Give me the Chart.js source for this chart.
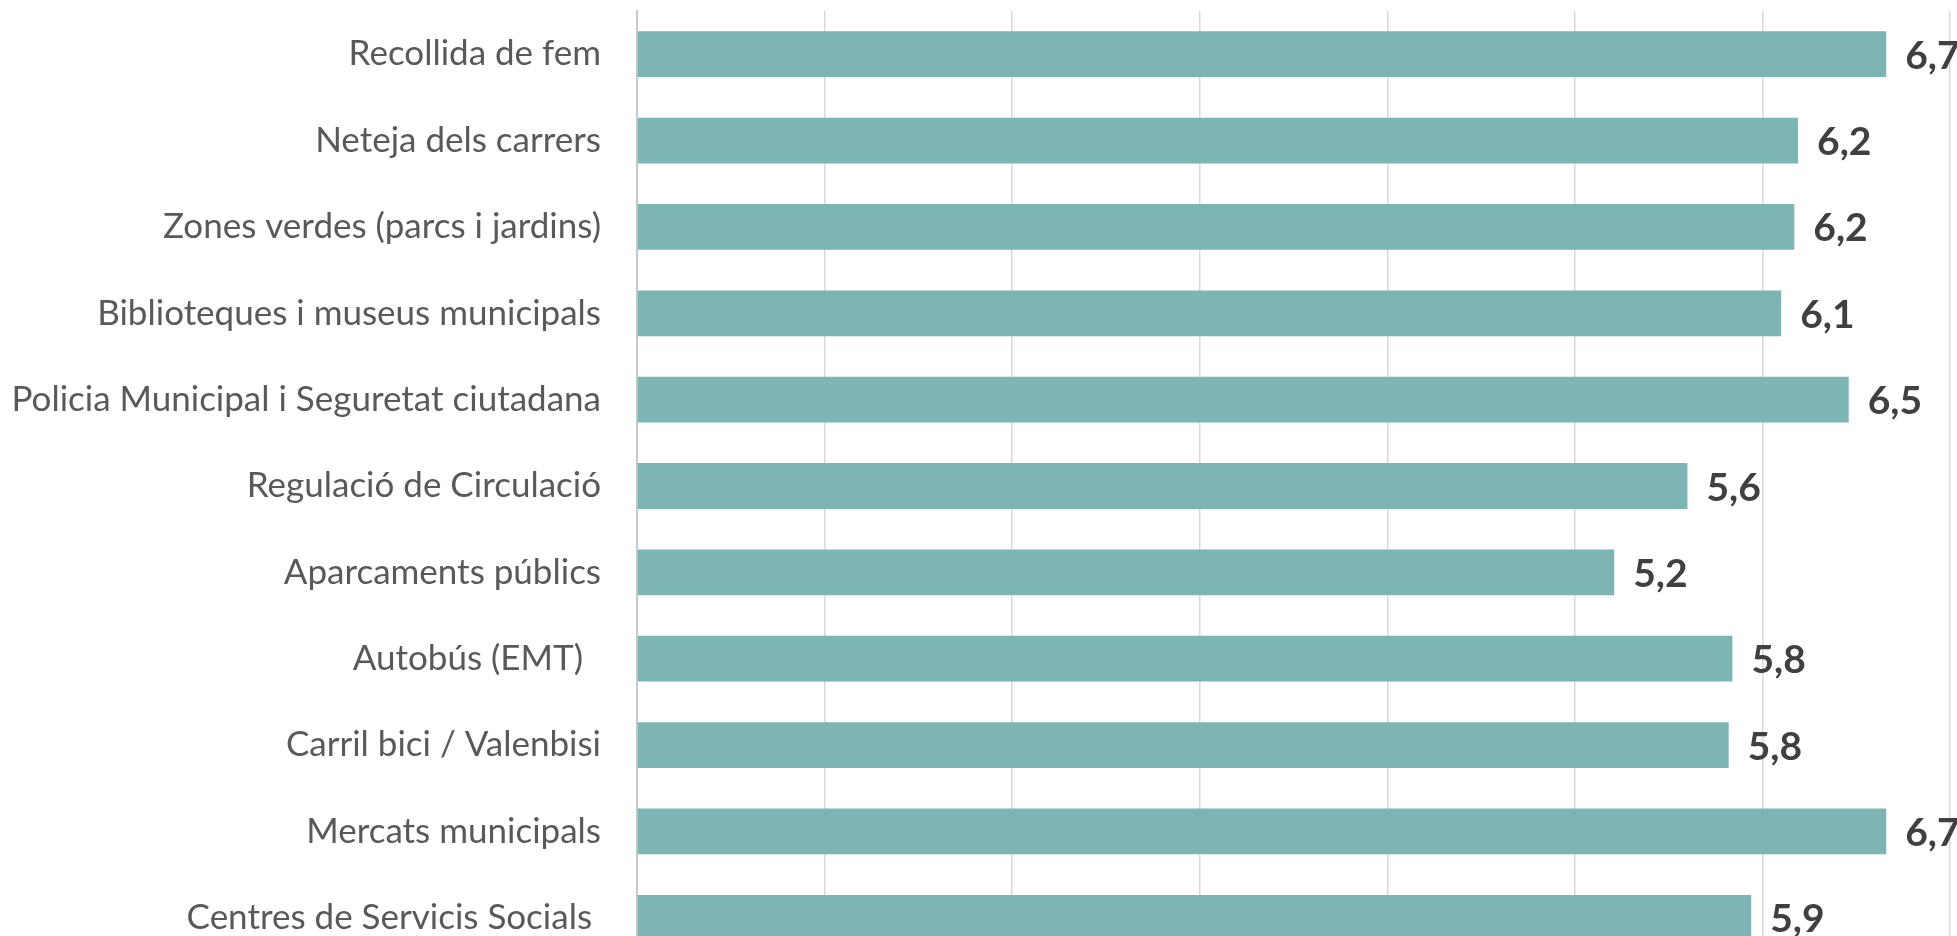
<!DOCTYPE html>
<html>
<head>
<meta charset="utf-8">
<script src="https://cdn.jsdelivr.net/npm/chart.js@4"></script>
<style>
  html, body { margin: 0; padding: 0; background: #ffffff; overflow: hidden; }
  #wrap { width: 1957px; height: 936px; overflow: hidden; position: relative; }
  /* il padding dei tick sposta l'area del grafico: la tela sale di 46px */
  #myChartBar { position: absolute; left: 0; top: -46px; }
</style>
</head>
<body>
<div id="wrap"><canvas id="myChartBar" width="1957" height="1064"></canvas></div>
<script>
var categorie = [
  'Recollida de fem',
  'Neteja dels carrers',
  'Zones verdes (parcs i jardins)',
  'Biblioteques i museus municipals',
  'Policia Municipal i Seguretat ciutadana',
  'Regulació de Circulació',
  'Aparcaments públics',
  'Autobús (EMT)  ',
  'Carril bici / Valenbisi',
  'Mercats municipals',
  'Centres de Servicis Socials '
];
var valori = [6.66, 6.19, 6.17, 6.1, 6.46, 5.6, 5.21, 5.84, 5.82, 6.66, 5.94];
var etichette = ['6,7', '6,2', '6,2', '6,1', '6,5', '5,6', '5,2', '5,8', '5,8', '6,7', '5,9'];

// etichette dei valori a destra delle barre
var pluginValori = {
  id: 'valori',
  afterDatasetsDraw: function(chart) {
    var ctx = chart.ctx;
    var meta = chart.getDatasetMeta(0);
    ctx.save();
    ctx.font = 'bold 39px Lato';
    ctx.fillStyle = '#404040';
    ctx.textAlign = 'left';
    ctx.textBaseline = 'middle';
    for (var i = 0; i < meta.data.length; i++) {
      var bar = meta.data[i];
      ctx.fillText(etichette[i], bar.x + 19, bar.y + 2);
    }
    ctx.restore();
  }
};

var ctx = document.getElementById('myChartBar');
var chart = new Chart(ctx, {
  type: 'bar',
  data: {
    labels: categorie,
    datasets: [{
      data: valori,
      backgroundColor: '#7db5b5',
      barPercentage: 0.53,
      categoryPercentage: 1
    }]
  },
  options: {
    indexAxis: 'y',
    responsive: false,
    animation: false,
    layout: { padding: { top: 0, right: 7, left: 0, bottom: 0 } },
    plugins: {
      legend: { display: false },
      tooltip: { enabled: false }
    },
    scales: {
      x: {
        min: 0,
        max: 7,
        ticks: { display: false, stepSize: 1 },
        grid: { color: '#d9d9d9', lineWidth: 1.5, drawTicks: false },
        border: { display: false }
      },
      y: {
        ticks: {
          color: '#595959',
          font: { family: 'Lato', size: 35 },
          padding: 36
        },
        grid: { display: false, drawTicks: false },
        border: { display: true, color: '#c8c8c8', width: 2 },
        afterFit: function(scale) {
          scale.width = 637;
        }
      }
    }
  },
  plugins: [pluginValori]
});
</script>
</body>
</html>
